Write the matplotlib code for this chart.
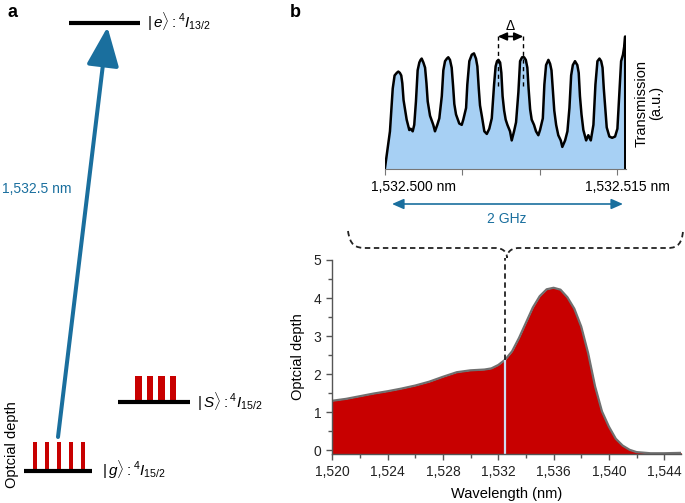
import matplotlib
matplotlib.use("Agg")
import matplotlib.pyplot as plt
from matplotlib.patches import FancyArrowPatch, Rectangle, PathPatch
from matplotlib.path import Path

plt.rcParams['font.family'] = ['Liberation Sans', 'DejaVu Sans']
plt.rcParams['mathtext.fontset'] = 'custom'
plt.rcParams['mathtext.rm'] = 'Liberation Sans'
plt.rcParams['mathtext.it'] = 'Liberation Sans:italic'
plt.rcParams['mathtext.bf'] = 'Liberation Sans:bold'

# ---------------- data ----------------
# main absorption spectrum (optical depth vs wavelength)
wavelength_nm = [1520, 1521, 1522, 1523, 1524, 1525, 1526, 1527, 1528, 1529,
                 1530, 1531, 1531.5, 1532, 1532.5, 1533, 1533.5, 1534, 1534.5,
                 1535, 1535.5, 1536, 1536.5, 1537, 1537.5, 1538, 1538.5, 1539,
                 1539.5, 1540, 1540.5, 1541, 1541.5, 1542, 1543, 1544, 1545.25]
optical_depth = [1.30, 1.35, 1.42, 1.49, 1.55, 1.62, 1.70, 1.80, 1.93, 2.05,
                 2.10, 2.12, 2.15, 2.24, 2.38, 2.60, 2.95, 3.35, 3.75,
                 4.05, 4.23, 4.27, 4.22, 4.02, 3.72, 3.25, 2.55, 1.68,
                 1.02, 0.62, 0.30, 0.12, 0.01, -0.05, -0.08, -0.08, -0.07]
selected_wl = 1532.5
selected_od = 2.38

x_ticks = [1520, 1524, 1528, 1532, 1536, 1540, 1544]
x_ticklabels = ['1,520', '1,524', '1,528', '1,532', '1,536', '1,540', '1,544']
y_ticks = [0, 1, 2, 3, 4, 5]

# inset: transmission of the AFC comb (offset from 1,532.500 nm in pm)
comb_offset_pm = [0, 0.32, 0.50, 0.62, 0.76, 0.86, 0.96, 1.05, 1.12, 1.20, 1.29, 1.40, 1.57,
                  1.66, 1.79, 1.89, 2.00, 2.11, 2.22, 2.30, 2.37, 2.48, 2.59, 2.68, 2.76,
                  2.91, 3.12, 3.23, 3.38, 3.51, 3.67, 3.77, 3.88, 4.00, 4.09, 4.20,
                  4.31, 4.40, 4.48, 4.59, 4.80, 4.96, 5.06, 5.24, 5.32, 5.45, 5.61,
                  5.75, 5.88, 5.97, 6.06, 6.14, 6.27, 6.42, 6.58, 6.74, 6.90,
                  7.05, 7.15, 7.24, 7.33, 7.44, 7.52, 7.60, 7.70, 7.80, 7.91, 8.08, 8.19,
                  8.34, 8.47, 8.62, 8.73, 8.86, 8.99, 9.10, 9.20, 9.28, 9.38, 9.48,
                  9.63, 9.76, 9.91, 10.02, 10.20, 10.30, 10.41, 10.56, 10.67,
                  10.76, 10.84, 10.94, 11.06, 11.20, 11.36, 11.46, 11.64, 11.79, 11.92,
                  12.03, 12.14, 12.28, 12.43, 12.52, 12.60, 12.70, 12.82, 13.00, 13.14,
                  13.30, 13.47, 13.60, 13.73, 13.86, 13.97, 14.06, 14.14, 14.24, 14.33,
                  14.50, 14.68, 14.87, 15.02, 15.15, 15.26, 15.38, 15.47, 15.52,
                  15.53]
comb_transmission = [0.01, 0.29, 0.62, 0.72, 0.74, 0.75, 0.74, 0.72, 0.66, 0.53, 0.46, 0.38, 0.30,
                     0.31, 0.29, 0.34, 0.52, 0.76, 0.82, 0.84, 0.85, 0.82, 0.78, 0.66, 0.52,
                     0.41, 0.34, 0.29, 0.34, 0.39, 0.56, 0.76, 0.83, 0.85, 0.86, 0.84,
                     0.78, 0.64, 0.50, 0.42, 0.35, 0.34, 0.38, 0.47, 0.65, 0.83, 0.88,
                     0.89, 0.85, 0.79, 0.62, 0.49, 0.40, 0.29, 0.27, 0.31, 0.39,
                     0.65, 0.79, 0.83, 0.84, 0.82, 0.74, 0.56, 0.45, 0.38, 0.34, 0.29, 0.22,
                     0.29, 0.36, 0.59, 0.83, 0.86, 0.86, 0.84, 0.78, 0.62, 0.46, 0.38,
                     0.34, 0.29, 0.26, 0.30, 0.39, 0.65, 0.80, 0.84, 0.81,
                     0.76, 0.62, 0.45, 0.34, 0.26, 0.22, 0.17, 0.22, 0.29, 0.47,
                     0.72, 0.80, 0.83, 0.80, 0.74, 0.56, 0.42, 0.30, 0.22, 0.26,
                     0.22, 0.34, 0.65, 0.83, 0.85, 0.83, 0.78, 0.62, 0.46, 0.32,
                     0.25, 0.24, 0.25, 0.31, 0.59, 0.83, 0.88, 0.95, 1.02,
                     0.0]
delta_peaks_pm = [7.29, 8.94]
inset_ticks_pm = [0, 5, 10, 15]
inset_labels = ['1,532.500 nm', '1,532.515 nm']

# level scheme: spectral comb heights (arbitrary) on |g> and |S>
comb_g = [1, 1, 1, 1, 1]
comb_S = [1, 1, 1, 1]

BLUE = '#1a6f9e'
RED = '#c80000'
FILL_BLUE = '#a7d0f4'

fig = plt.figure(figsize=(6.85, 5.03), dpi=100)

# ---------------- overlay axes in pixel coordinates ----------------
ov = fig.add_axes([0, 0, 1, 1], zorder=5)
ov.set_xlim(0, 685)
ov.set_ylim(503, 0)
ov.axis('off')
ov.patch.set_alpha(0)

ov.text(13, 12, 'a', fontsize=13, fontweight='bold', ha='center', va='center')
ov.text(295, 12, 'b', fontsize=13, fontweight='bold', ha='center', va='center')

# energy levels
ov.plot([69, 140], [23, 23], color='black', lw=3, solid_capstyle='butt')
ov.plot([118, 190], [402, 402], color='black', lw=3, solid_capstyle='butt')
ov.plot([24, 92], [470.5, 470.5], color='black', lw=3, solid_capstyle='butt')
ov.text(147, 22, r'$|\,e\rangle : {}^{4}I_{13/2}$', fontsize=11, va='center', ha='left')
ov.text(197, 402, r'$|\,S\rangle : {}^{4}I_{15/2}$', fontsize=11, va='center', ha='left')
ov.text(102, 470, r'$|\,g\rangle : {}^{4}I_{15/2}$', fontsize=11, va='center', ha='left')

# comb bars
for i, h in enumerate(comb_g):
    ov.add_patch(Rectangle((33.5 + i * 12.0, 468.5), 3.4, -27 * h, color=RED, lw=0))
for i, h in enumerate(comb_S):
    ov.add_patch(Rectangle((135 + i * 11.6, 400.5), 6.6, -25 * h, color=RED, lw=0))
ov.text(12.5, 445, 'Optcial depth', rotation=90, fontsize=10.5, ha='center', va='center')

# excitation arrow
arr = FancyArrowPatch((58, 437), (107.5, 27), arrowstyle='-|>,head_length=1.2,head_width=0.5',
                      mutation_scale=20, color=BLUE, lw=2.9, shrinkA=0, shrinkB=0)
ov.add_patch(arr)
ov.text(2, 189, '1,532.5 nm', color=BLUE, fontsize=10, ha='left', va='center')

# 2 GHz arrow
ov.add_patch(FancyArrowPatch((392, 204), (623, 204), arrowstyle='<|-|>,head_length=0.5,head_width=0.22',
                             mutation_scale=14, color=BLUE, lw=1.2, shrinkA=0, shrinkB=0))
ov.text(507, 219, '2 GHz', color=BLUE, fontsize=10, ha='center', va='center')

# inset tick texts
ov.text(414, 187, inset_labels[0], fontsize=10, ha='center', va='center')
ov.text(627, 187, inset_labels[1], fontsize=10, ha='center', va='center')
ov.text(649, 103, 'Transmission\n(a.u.)', rotation=90, fontsize=10.5, ha='center',
        va='center', multialignment='center', linespacing=1.0)

# brace
verts = [(348, 231), (350, 245), (355, 248), (366, 248), (495, 248),
         (503, 248), (507, 252), (507, 258),
         (507, 252), (511, 248), (519, 248), (668, 248),
         (678, 248), (682, 243), (683, 231)]
codes = [Path.MOVETO, Path.CURVE4, Path.CURVE4, Path.CURVE4, Path.LINETO,
         Path.CURVE4, Path.CURVE4, Path.CURVE4,
         Path.CURVE4, Path.CURVE4, Path.CURVE4, Path.LINETO,
         Path.CURVE4, Path.CURVE4, Path.CURVE4]
ov.add_patch(PathPatch(Path(verts, codes), facecolor='none', edgecolor='#222222',
                       lw=1.3, linestyle=(0, (3, 2))))

# ---------------- main axes ----------------
ax = fig.add_axes([332.3 / 685, 1 - 454 / 503, (681.5 - 332.3) / 685, 194 / 503])
ax.set_xlim(1520, 1545.25)
ax.set_ylim(-0.1, 5.0)
ax.fill_between(wavelength_nm, optical_depth, -0.1, color=RED, lw=0)
ax.plot(wavelength_nm, optical_depth, color='#707070', lw=1.6)
ax.plot([selected_wl, selected_wl], [-0.1, selected_od], color='#cfdcf2', lw=1.6)
ax.plot([selected_wl, selected_wl], [selected_od, 5.06], color='#222222', lw=1.3,
        linestyle=(0, (3, 2)), clip_on=False)
ax.set_xticks(x_ticks)
ax.set_xticklabels(x_ticklabels)
ax.set_xticks([1522, 1526, 1530, 1534, 1538, 1542], minor=True)
ax.set_yticks(y_ticks)
ax.set_yticks([0.5, 1.5, 2.5, 3.5, 4.5], minor=True)
for s in ['top', 'right']:
    ax.spines[s].set_visible(False)
for s in ['left', 'bottom']:
    ax.spines[s].set_color('#555555')
    ax.spines[s].set_linewidth(1.0)
ax.tick_params(which='major', direction='out', length=4, width=1, color='#555555',
               labelsize=10, labelcolor='#222222', pad=4)
ax.tick_params(which='minor', direction='out', length=3, width=1, color='#555555')
ax.set_xlabel('Wavelength (nm)', fontsize=10.5, labelpad=6)
ax.set_ylabel('Optcial depth', fontsize=10.5, labelpad=6)

# ---------------- inset axes ----------------
ins = fig.add_axes([385 / 685, 1 - 169 / 503, 240.6 / 685, 139 / 503])
ins.set_xlim(0, 15.55)
ins.set_ylim(0, 1.07)
ins.fill_between(comb_offset_pm, comb_transmission, 0, color=FILL_BLUE, lw=0)
ins.plot(comb_offset_pm, comb_transmission, color='black', lw=1.8)
for s in ['top', 'right', 'left']:
    ins.spines[s].set_visible(False)
ins.spines['bottom'].set_color('#777777')
ins.spines['bottom'].set_linewidth(0.8)
ins.set_xticks(inset_ticks_pm)
ins.set_xticklabels([])
ins.set_yticks([])
ins.tick_params(axis='x', direction='out', length=4, width=0.8, color='#777777')
ins.patch.set_alpha(0)

# Delta marker
for xp in delta_peaks_pm:
    ins.plot([xp, xp], [1.02, 0.62], color='black', lw=1.0, linestyle=(0, (3, 2.5)),
             clip_on=False)
ins.annotate('', xy=(delta_peaks_pm[0], 1.02), xytext=(delta_peaks_pm[1], 1.02),
             arrowprops=dict(arrowstyle='<|-|>,head_length=0.45,head_width=0.2',
                             color='black', lw=1.2, shrinkA=0, shrinkB=0,
                             mutation_scale=12), annotation_clip=False)
ins.text(sum(delta_peaks_pm) / 2, 1.10, 'Δ', fontsize=10, ha='center', va='center')

fig.savefig('out.png', dpi=100)
